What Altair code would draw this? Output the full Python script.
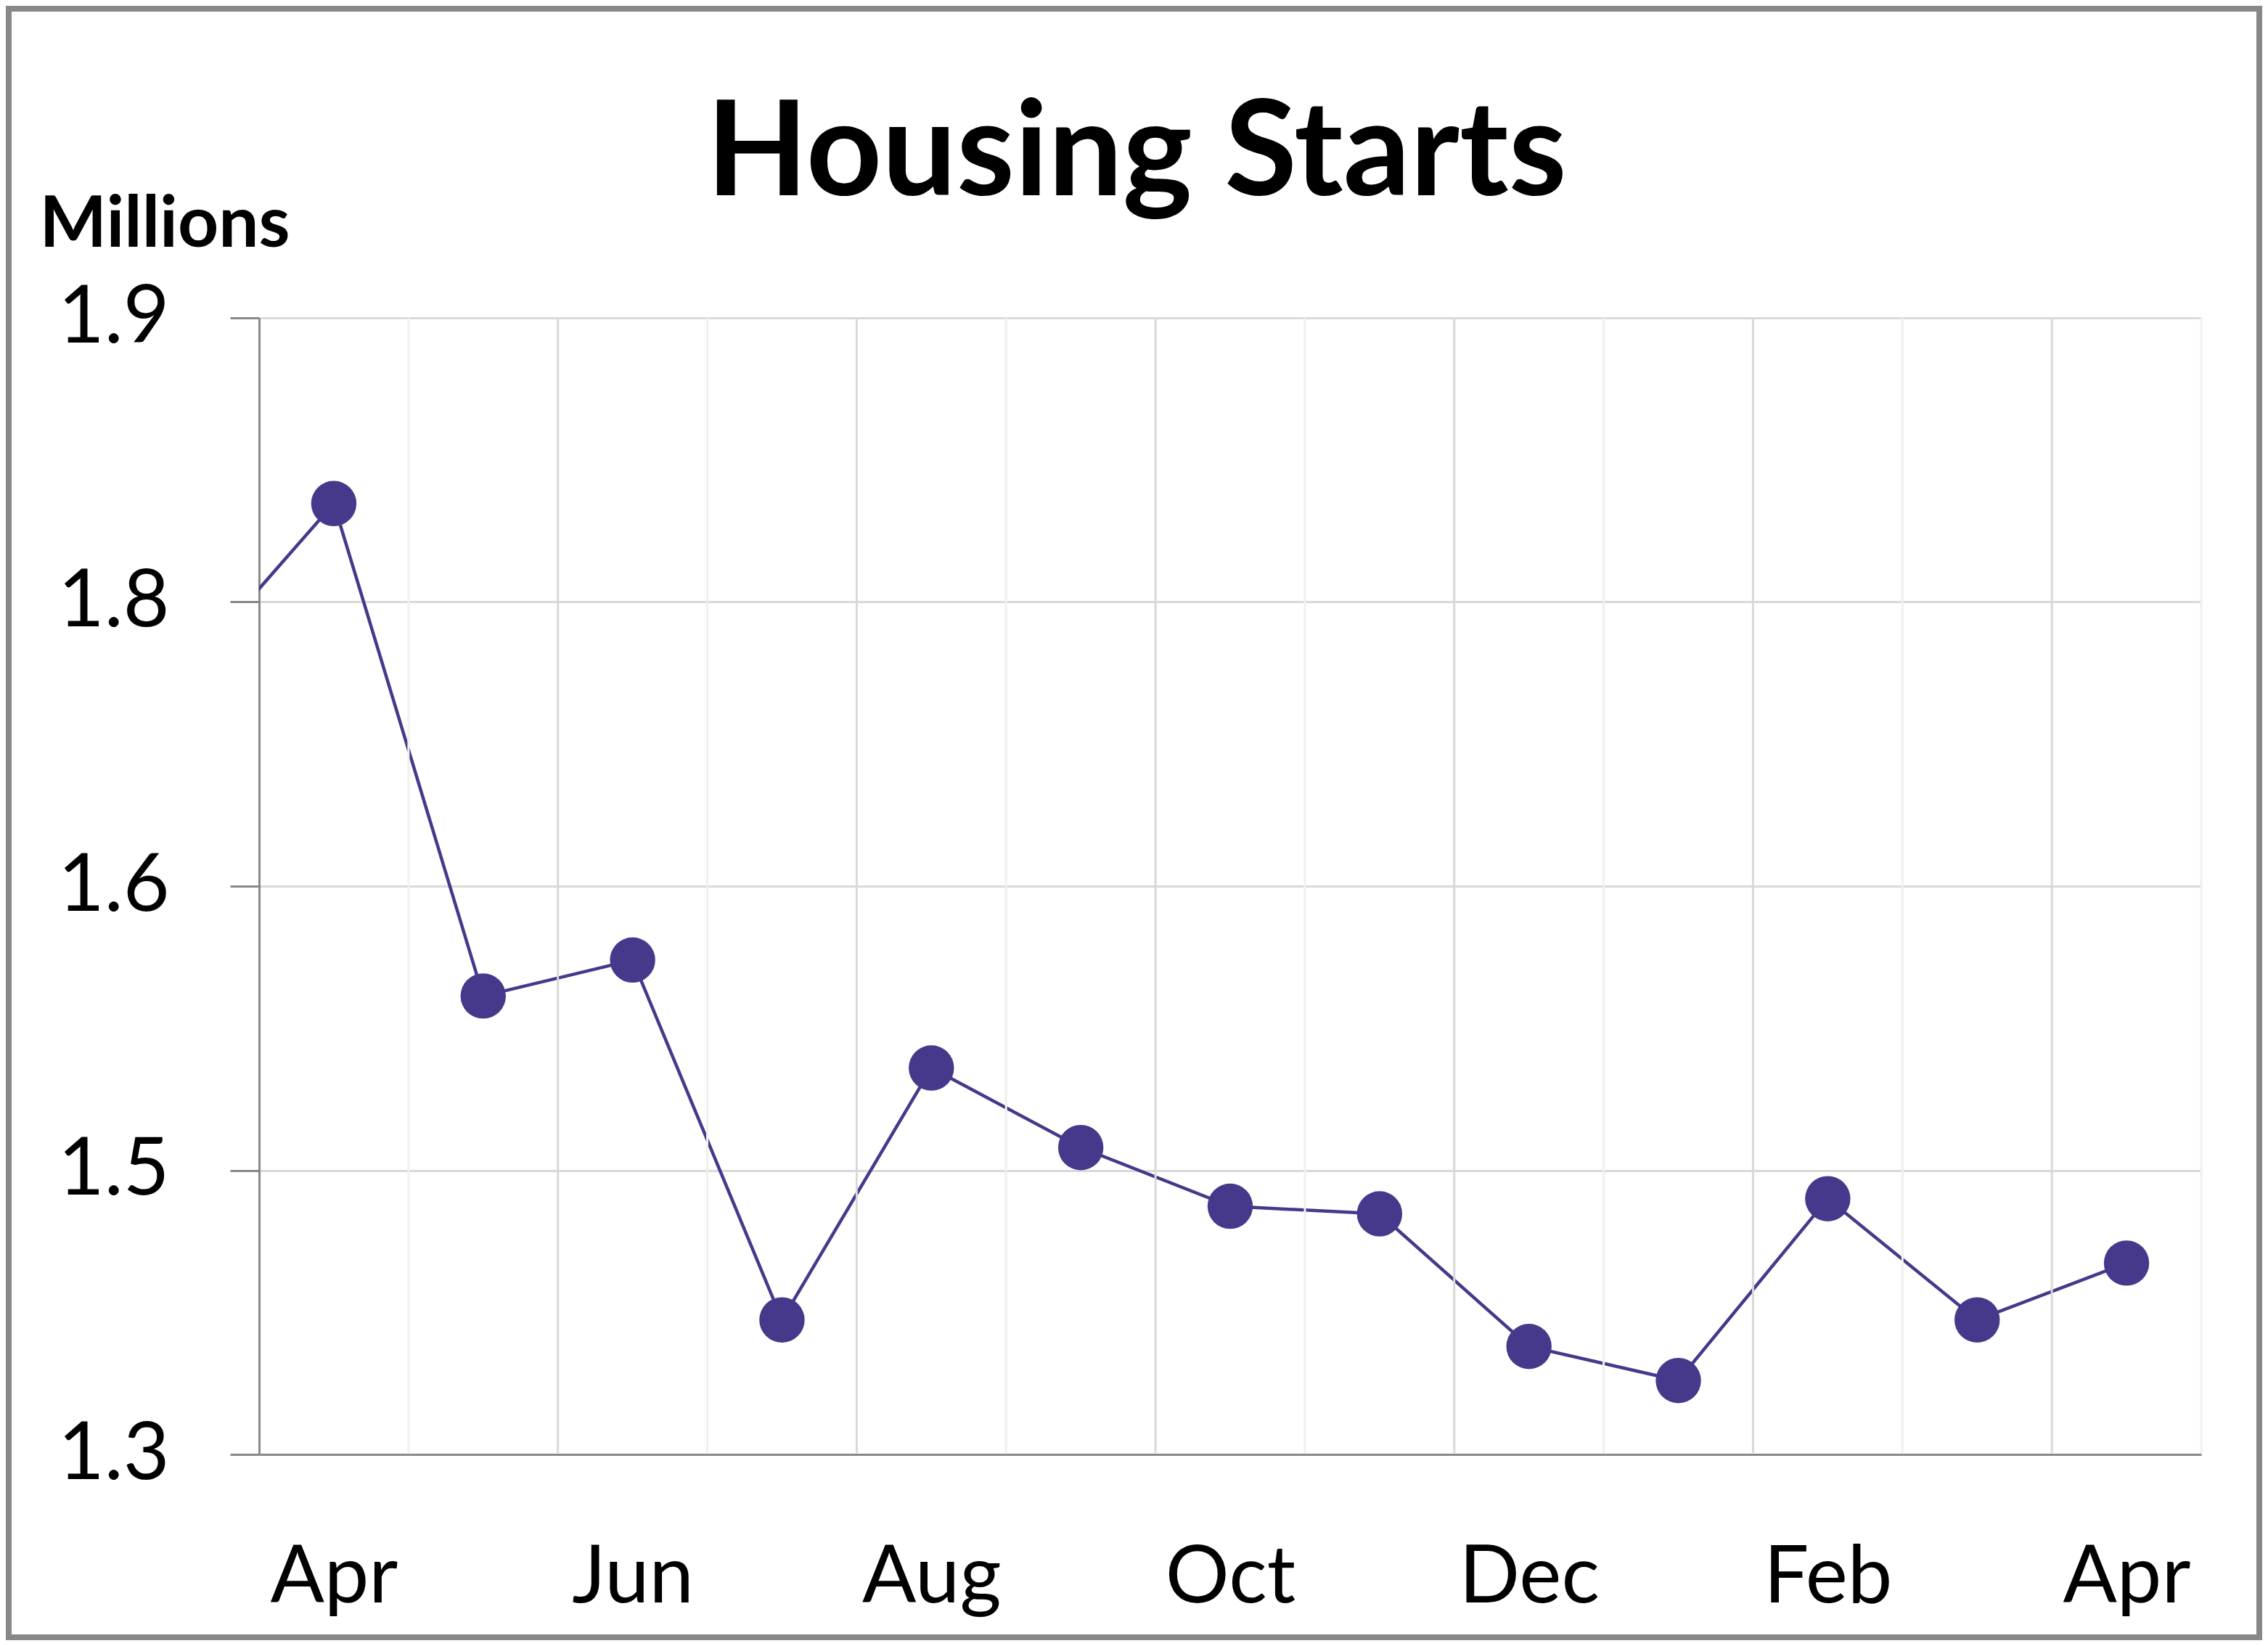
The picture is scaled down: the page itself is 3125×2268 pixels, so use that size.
import altair as alt
import pandas as pd

# ---- data ----
months = ["Mar", "Apr", "May", "Jun", "Jul", "Aug", "Sep", "Oct", "Nov",
          "Dec", "Jan", "Feb", "Mar", "Apr"]
month_index = list(range(0, 14))          # 0 = month before window (clipped)
starts = [1.712, 1.802, 1.542, 1.561, 1.371, 1.504, 1.462, 1.431, 1.427,
          1.357, 1.339, 1.435, 1.371, 1.401]

x_tick_values = [1, 3, 5, 7, 9, 11, 13]
x_tick_labels = ["Apr", "Jun", "Aug", "Oct", "Dec", "Feb", "Apr"]
y_tick_values = [1.3, 1.45, 1.6, 1.75, 1.9]
y_tick_labels = ["1.3", "1.5", "1.6", "1.8", "1.9"]
major_grid = [2.5, 4.5, 6.5, 8.5, 10.5, 12.5]
minor_grid = [1.5, 3.5, 5.5, 7.5, 9.5, 11.5, 13.5]

W, H = 2676, 1566
PAD = {"left": 349, "top": 430, "right": 84, "bottom": 256}
LINE_COLOR = "#46398B"
FONT = "Lato"

df = pd.DataFrame({"idx": month_index, "month": months, "v": starts})
border_df = pd.DataFrame({"a": [0]})
major_df = pd.DataFrame({"pos": major_grid})
minor_df = pd.DataFrame({"pos": minor_grid})

xscale = alt.Scale(domain=[0.5, 13.5], nice=False, zero=False)
yscale = alt.Scale(domain=[1.3, 1.9], nice=False, zero=False)


def js_list(items):
    return "[" + ",".join(repr(i) if isinstance(i, str) else str(i) for i in items) + "]"


x_label_expr = f"{js_list(x_tick_labels)}[indexof({js_list(x_tick_values)}, datum.value)]"
y_label_expr = f"{js_list(y_tick_labels)}[indexof({js_list(y_tick_values)}, datum.value)]"

x_axis = alt.Axis(values=x_tick_values, labelExpr=x_label_expr, grid=False,
                  ticks=False, tickSize=0, domainColor="#888888", domainWidth=3,
                  labelFont=FONT, labelFontSize=110, labelColor="black",
                  labelBaseline="alphabetic", labelPadding=203, title=None,
                  labelFlush=False, labelOverlap=False, labelLimit=0)
y_axis = alt.Axis(values=y_tick_values, labelExpr=y_label_expr, grid=True,
                  gridColor="#d9d9d9", gridWidth=3, ticks=True, tickSize=40,
                  tickWidth=3, tickColor="#888888", domainColor="#888888",
                  domainWidth=3, labelFont=FONT, labelFontSize=110,
                  labelColor="black", labelPadding=84, labelBaseline="middle",
                  labelAlign="right", labelOverlap=False, labelFlush=False,
                  labelLimit=0,
                  title="Millions", titleAngle=0, titleX=-303, titleY=-99,
                  titleAlign="left", titleBaseline="alphabetic", titleFont=FONT,
                  titleFontSize=98, titleFontWeight="bold", titleColor="black",
                  titleLimit=0)

minor_rules = alt.Chart(minor_df).mark_rule(color="#f0f0f0", strokeWidth=3).encode(
    x=alt.X("pos:Q", scale=xscale, axis=x_axis),
    y=alt.value(0), y2=alt.value(H - 2))
major_rules = alt.Chart(major_df).mark_rule(color="#d9d9d9", strokeWidth=3).encode(
    x=alt.X("pos:Q", scale=xscale, axis=x_axis),
    y=alt.value(0), y2=alt.value(H - 2))

line = alt.Chart(df).mark_line(color=LINE_COLOR, strokeWidth=4.5, clip=True).encode(
    x=alt.X("idx:Q", scale=xscale, axis=x_axis),
    y=alt.Y("v:Q", scale=yscale, axis=y_axis))

points = alt.Chart(df).transform_filter("datum.idx >= 1").mark_point(
    filled=True, opacity=1, color=LINE_COLOR, size=3900, shape="circle").encode(
    x=alt.X("idx:Q", scale=xscale, axis=x_axis),
    y=alt.Y("v:Q", scale=yscale, axis=y_axis))

border = alt.Chart(border_df).mark_rect(fill=None, stroke="#888888", strokeWidth=8).encode(
    x=alt.value(-PAD["left"] + 4), x2=alt.value(W + PAD["right"] - 4),
    y=alt.value(-PAD["top"] + 4), y2=alt.value(H + PAD["bottom"] - 4))

chart = alt.layer(line, points, minor_rules, major_rules, border).properties(
    width=W, height=H,
    title=alt.TitleParams("Housing Starts", font=FONT, fontSize=182,
                          fontWeight="bold", color="black", anchor="middle",
                          frame="group", dx=-129, dy=443, baseline="alphabetic",
                          offset=0, limit=0),
    autosize=alt.AutoSizeParams(type="none"),
    padding=PAD,
    background="white",
).configure_view(stroke=None)

chart.save("out.html", embed_options={"renderer": "svg", "actions": False})
